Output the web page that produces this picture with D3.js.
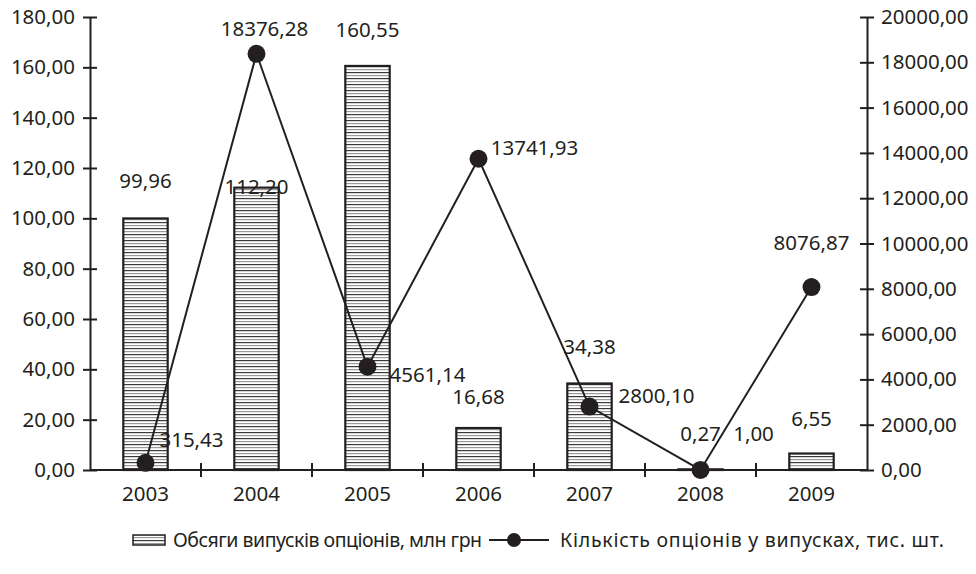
<!DOCTYPE html>
<html>
<head>
<meta charset="utf-8">
<script src="https://cdn.jsdelivr.net/npm/d3@7"></script>
<style>
  html, body { margin: 0; padding: 0; background: #fff; }
  svg { display: block; }
  text { font-family: "Noto Sans", "Open Sans", sans-serif; fill: #231f20; }
</style>
</head>
<body>
<svg id="chart" width="976" height="574"></svg>
<script>
// Option issues on the Ukrainian market, 2003–2009
const years = ["2003", "2004", "2005", "2006", "2007", "2008", "2009"];
const volumes = [99.96, 112.20, 160.55, 16.68, 34.38, 0.27, 6.55];          // млн грн
const counts = [315.43, 18376.28, 4561.14, 13741.93, 2800.10, 1.00, 8076.87]; // тис. шт.
const leftTicks = [0, 20, 40, 60, 80, 100, 120, 140, 160, 180];
const rightTicks = [0, 2000, 4000, 6000, 8000, 10000, 12000, 14000, 16000, 18000, 20000];
const legendLabels = ["Обсяги випусків опціонів, млн грн", "Кількість опціонів у випусках, тис. шт."];

// label placement (offsets from the mark, px)
const barLabelDy = [-30, 6, -29, -24, -29, -28, -28];
const pointLabelDx = [46, 8, 60, 56, 67, 53, 0];
const pointLabelDy = [-16, -18, 15, -4, -4, -29, -37];

const svg = d3.select("#chart");
const ink = "#231f20";
const fs = 20.5;
const fmt = v => d3.format(".2f")(v).replace(".", ",");

const mLeft = 90, mRight = 867, mTop = 17, mBottom = 470;

const x = d3.scaleBand().domain(years).range([mLeft, mRight]).padding(0);
const yL = d3.scaleLinear().domain([0, 180]).range([mBottom, mTop]);
const yR = d3.scaleLinear().domain([0, 20000]).range([mBottom, mTop]);

// hatch fill for the bars
const defs = svg.append("defs");
const pat = defs.append("pattern")
  .attr("id", "hatch").attr("patternUnits", "userSpaceOnUse")
  .attr("width", 8).attr("height", 6);
pat.append("rect").attr("width", 8).attr("height", 6).attr("fill", "#fff");
pat.append("rect").attr("y", 0).attr("width", 8).attr("height", 1.2).attr("fill", "#3a3a3a");
pat.append("rect").attr("y", 3).attr("width", 8).attr("height", 1.2).attr("fill", "#9a9a9a");

// bars
const barW = x.bandwidth() * 0.4;
svg.append("g").selectAll("rect").data(volumes).join("rect")
  .attr("x", (d, i) => x(years[i]) + (x.bandwidth() - barW) / 2)
  .attr("y", d => yL(d))
  .attr("width", barW)
  .attr("height", d => mBottom - yL(d))
  .attr("fill", "url(#hatch)")
  .attr("stroke", ink).attr("stroke-width", 2.2);

// left axis
const gL = svg.append("g").attr("transform", `translate(${mLeft},0)`)
  .call(d3.axisLeft(yL).tickValues(leftTicks).tickFormat(fmt).tickSizeInner(7).tickSizeOuter(0).tickPadding(8));
gL.selectAll(".tick line").attr("x2", 7).attr("x1", -7);
gL.selectAll(".tick text").attr("x", -15);

// right axis
const gR = svg.append("g").attr("transform", `translate(${mRight},0)`)
  .call(d3.axisRight(yR).tickValues(rightTicks).tickFormat(fmt).tickSizeInner(7).tickSizeOuter(0).tickPadding(8));
gR.selectAll(".tick line").attr("x1", -7).attr("x2", 7);
gR.selectAll(".tick text").attr("x", 14);

// bottom axis: ticks at category boundaries
const gB = svg.append("g").attr("transform", `translate(0,${mBottom})`);
gB.append("line").attr("x1", mLeft).attr("x2", mRight).attr("stroke", ink).attr("stroke-width", 2);
gB.selectAll("line.b").data(years.slice(1)).join("line").attr("class", "b")
  .attr("x1", d => x(d)).attr("x2", d => x(d)).attr("y1", -7).attr("y2", 7)
  .attr("stroke", ink).attr("stroke-width", 2);
gB.selectAll("text").data(years).join("text")
  .attr("x", d => x(d) + x.bandwidth() / 2).attr("y", 31)
  .attr("text-anchor", "middle").attr("font-size", fs).text(d => d);

[gL, gR].forEach(g => {
  g.select(".domain").attr("stroke", ink).attr("stroke-width", 2);
  g.selectAll(".tick line").attr("stroke", ink).attr("stroke-width", 2);
  g.selectAll(".tick text").attr("font-size", fs).attr("fill", ink)
    .style("font-family", '"Noto Sans", sans-serif');
});

// line series
const cx = i => x(years[i]) + x.bandwidth() / 2;
const line = d3.line().x((d, i) => cx(i)).y(d => yR(d));
svg.append("path").datum(counts).attr("d", line)
  .attr("fill", "none").attr("stroke", ink).attr("stroke-width", 2);
svg.append("g").selectAll("circle").data(counts).join("circle")
  .attr("cx", (d, i) => cx(i)).attr("cy", d => yR(d)).attr("r", 9).attr("fill", ink);

// value labels
svg.append("g").selectAll("text").data(volumes).join("text")
  .attr("x", (d, i) => cx(i))
  .attr("y", (d, i) => yL(d) + barLabelDy[i])
  .attr("text-anchor", "middle").attr("font-size", fs).text(d => fmt(d));
svg.append("g").selectAll("text").data(counts).join("text")
  .attr("x", (d, i) => cx(i) + pointLabelDx[i])
  .attr("y", (d, i) => yR(d) + pointLabelDy[i])
  .attr("text-anchor", "middle").attr("font-size", fs).text(d => fmt(d));

// legend
const lg = svg.append("g");
lg.append("rect").attr("x", 133).attr("y", 535).attr("width", 32).attr("height", 10)
  .attr("fill", "url(#hatch)").attr("stroke", ink).attr("stroke-width", 1.5);
lg.append("text").attr("x", 173).attr("y", 547).attr("font-size", 19.5)
  .attr("textLength", 309).attr("lengthAdjust", "spacing").text(legendLabels[0]);
lg.append("line").attr("x1", 489).attr("x2", 549).attr("y1", 540).attr("y2", 540)
  .attr("stroke", ink).attr("stroke-width", 2);
lg.append("circle").attr("cx", 514).attr("cy", 540).attr("r", 7).attr("fill", ink);
lg.append("text").attr("x", 560).attr("y", 547).attr("font-size", 19.5)
  .attr("textLength", 384).attr("lengthAdjust", "spacing").text(legendLabels[1]);
</script>
</body>
</html>
